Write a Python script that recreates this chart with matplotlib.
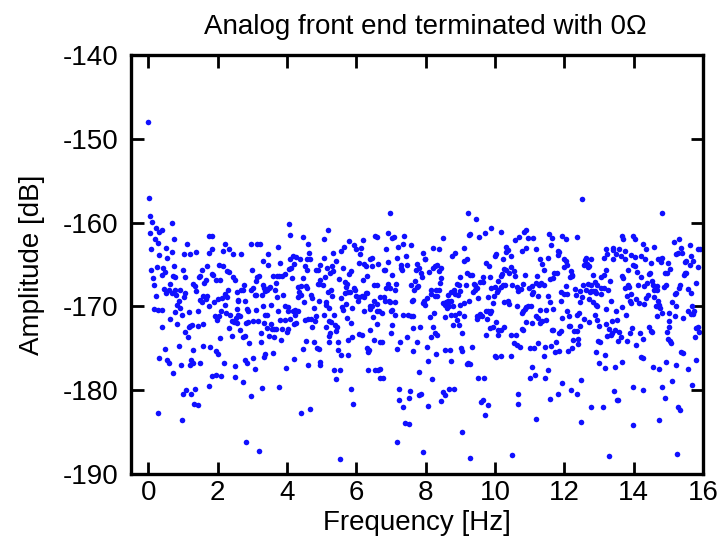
import matplotlib
matplotlib.use("Agg")
import matplotlib.pyplot as plt

plt.rcParams['font.family'] = ['Liberation Sans', 'DejaVu Sans']
plt.rcParams['axes.unicode_minus'] = False

# (frequency [Hz], amplitude [dB]), grouped by frequency band
band1 = [(0.00,-148.0),(0.03,-157.1),(0.04,-159.2),(0.10,-159.9),(0.68,-160.0),(0.21,-160.7),(0.38,-160.9),(0.30,-161.1),(0.06,-161.3),(0.75,-161.9),(0.19,-162.0),(0.28,-162.4),(1.11,-162.6),(0.52,-163.0),(0.07,-163.2),(0.67,-163.5),(1.38,-163.5),(1.02,-163.7),(1.19,-163.7),(0.30,-163.9),(0.55,-164.2),(0.25,-165.3),(0.73,-165.2),(0.42,-165.4),(0.09,-165.7),(1.00,-165.7),(1.55,-165.6),(0.48,-165.9),(0.38,-166.2),(0.13,-166.6),(0.71,-166.4),(0.78,-166.5),(1.05,-166.5),(1.46,-166.5),(1.50,-166.4),(1.30,-167.3),(0.63,-167.3),(0.17,-167.5),(0.46,-167.9),(1.34,-167.6),(0.90,-168.0),(0.77,-168.0),(0.59,-168.0),(1.38,-168.2),(0.50,-168.4),(0.67,-168.4),(1.07,-168.4),(0.21,-168.7),(0.80,-168.6),(1.02,-168.9),(1.50,-169.2),(0.88,-169.3),(1.55,-169.5),(0.84,-169.8),(0.15,-170.3),(0.28,-170.4),(0.40,-170.4),(0.92,-170.2),(0.78,-170.7),(1.17,-170.7),(1.42,-170.6),(0.98,-171.0),(0.63,-171.5),(1.57,-172.1),(0.84,-172.1),(1.27,-172.2),(1.21,-172.3),(1.17,-172.5),(0.38,-172.4),(1.44,-172.3),(1.05,-173.1),(1.13,-173.6),(0.88,-174.7),(1.57,-174.7),(0.48,-175.1),(1.28,-175.2),(0.32,-176.1),(0.53,-176.4),(0.61,-176.7),(1.23,-176.4),(1.28,-176.8),(1.19,-177.0),(1.48,-176.8),(0.94,-177.0),(0.71,-178.0),(1.34,-179.8),(1.09,-180.0),(1.00,-180.5),(1.23,-180.4),(1.32,-181.6),(1.44,-181.8),(0.27,-182.7),(0.96,-183.5)]
band2 = [(1.74,-161.6),(1.85,-161.6),(1.84,-163.1),(1.74,-163.6),(2.22,-162.6),(2.34,-163.1),(2.16,-163.4),(2.43,-163.8),(2.68,-163.8),(2.95,-162.6),(3.14,-162.6),(3.22,-162.6),(3.32,-164.6),(1.70,-165.2),(2.03,-165.1),(2.14,-165.2),(1.84,-166.1),(1.87,-166.3),(1.66,-166.8),(1.95,-166.9),(2.07,-166.9),(2.26,-165.8),(2.34,-165.9),(2.45,-166.5),(2.49,-166.8),(2.99,-165.6),(3.14,-166.5),(3.18,-166.4),(3.10,-167.0),(2.76,-167.4),(3.01,-167.8),(2.95,-168.0),(3.32,-167.5),(3.35,-167.8),(1.62,-167.2),(1.57,-168.7),(1.70,-168.7),(1.66,-169.1),(1.76,-170.0),(1.89,-169.5),(2.01,-169.1),(2.12,-169.0),(2.22,-168.5),(2.30,-168.1),(2.28,-168.9),(2.55,-168.3),(2.66,-168.1),(2.72,-168.1),(2.59,-169.2),(2.60,-169.4),(2.78,-169.3),(3.09,-168.6),(3.12,-168.6),(3.28,-168.6),(3.37,-168.2),(2.22,-169.8),(2.09,-170.6),(2.24,-170.8),(2.37,-171.0),(2.57,-170.3),(2.85,-170.3),(2.87,-170.5),(3.10,-170.4),(3.32,-170.0),(1.91,-171.2),(1.97,-171.4),(1.99,-171.6),(2.03,-171.1),(2.60,-171.0),(2.64,-171.2),(2.53,-171.4),(2.41,-171.7),(2.47,-171.9),(2.55,-172.0),(2.34,-172.6),(2.82,-172.0),(2.87,-171.9),(3.03,-171.8),(3.16,-171.8),(3.37,-171.0),(3.35,-172.0),(2.64,-172.8),(2.41,-173.5),(2.72,-173.7),(2.80,-173.5),(2.07,-173.8),(3.26,-173.2),(2.91,-174.4),(3.26,-174.2),(1.78,-174.8),(1.95,-175.3),(2.01,-175.7),(3.37,-175.7),(3.34,-176.0),(2.18,-176.7),(2.78,-176.4),(2.85,-176.8),(3.03,-176.2),(2.51,-177.1),(3.07,-177.5),(1.85,-178.3),(1.95,-178.2),(2.10,-178.3),(2.49,-178.4),(1.74,-179.5),(2.72,-179.0),(3.28,-179.7),(2.97,-180.7),(2.82,-186.2),(3.20,-187.3)]
band3 = [(4.06,-160.2),(4.10,-161.5),(5.18,-160.9),(4.46,-161.7),(5.08,-161.9),(4.60,-162.5),(3.75,-162.9),(3.46,-163.8),(3.46,-165.0),(3.79,-164.8),(4.16,-164.0),(4.27,-164.1),(4.37,-164.4),(4.08,-164.4),(4.64,-163.6),(4.58,-164.4),(4.66,-164.4),(5.08,-164.2),(4.20,-164.9),(4.12,-165.4),(4.06,-165.5),(3.93,-166.1),(3.85,-166.4),(3.60,-166.4),(3.71,-166.4),(3.77,-166.4),(4.14,-166.6),(4.52,-165.2),(4.58,-165.6),(4.83,-165.7),(4.89,-165.6),(4.96,-165.0),(5.16,-165.4),(5.10,-166.5),(4.96,-166.8),(4.89,-167.3),(4.93,-167.3),(5.04,-167.5),(4.45,-166.6),(4.58,-167.8),(4.54,-167.6),(4.41,-167.6),(4.33,-167.7),(3.68,-167.2),(3.52,-167.7),(3.43,-168.1),(3.48,-167.8),(3.66,-168.1),(3.89,-168.6),(3.71,-168.9),(4.35,-168.3),(4.39,-168.6),(4.33,-168.9),(4.70,-168.6),(4.71,-169.0),(4.48,-169.5),(4.91,-169.4),(5.18,-168.3),(5.12,-169.5),(3.54,-169.8),(3.93,-169.9),(4.04,-170.1),(4.79,-170.2),(5.12,-169.8),(4.23,-170.4),(4.18,-170.6),(4.31,-170.6),(3.41,-171.0),(3.73,-170.6),(3.79,-171.6),(3.95,-171.6),(4.04,-170.6),(4.08,-171.5),(4.23,-171.0),(4.25,-172.0),(4.21,-172.1),(4.68,-171.5),(4.52,-171.6),(4.62,-171.5),(4.83,-171.1),(5.06,-171.0),(4.81,-171.8),(3.54,-172.1),(3.56,-172.7),(3.62,-172.7),(3.68,-172.7),(3.43,-172.6),(3.87,-172.7),(4.02,-172.7),(4.00,-173.0),(4.71,-172.5),(5.12,-172.4),(5.21,-171.8),(5.21,-173.5),(5.20,-174.3),(3.48,-173.5),(3.62,-173.6),(3.83,-174.0),(4.56,-174.1),(4.79,-174.2),(4.45,-175.1),(4.87,-175.0),(4.93,-175.1),(3.60,-175.6),(4.21,-176.3),(4.62,-177.0),(4.95,-176.6),(4.96,-177.0),(3.98,-177.3),(3.77,-179.6),(4.39,-182.7),(4.66,-182.2)]
band4 = [(6.96,-158.8),(6.92,-161.3),(7.04,-161.8),(6.55,-161.6),(6.59,-161.7),(6.19,-162.1),(5.79,-162.2),(5.92,-162.7),(5.98,-163.1),(6.13,-163.0),(5.65,-162.9),(5.55,-163.4),(5.32,-163.6),(6.86,-163.1),(5.42,-164.6),(5.29,-165.2),(5.32,-165.8),(5.23,-166.0),(5.61,-165.4),(6.07,-164.8),(6.23,-164.9),(6.27,-165.2),(6.11,-163.8),(6.40,-164.4),(6.44,-164.2),(6.46,-165.2),(6.63,-164.9),(6.79,-165.6),(6.82,-165.6),(6.90,-164.7),(7.04,-166.2),(5.84,-165.8),(5.80,-166.1),(5.50,-166.7),(5.67,-167.1),(5.73,-167.3),(5.69,-167.7),(5.96,-168.0),(5.94,-167.8),(6.19,-166.9),(6.32,-166.4),(6.52,-167.4),(6.61,-167.4),(6.92,-167.3),(6.86,-167.8),(6.98,-167.8),(5.27,-168.1),(5.29,-168.8),(5.57,-169.0),(5.67,-168.4),(5.77,-168.3),(5.82,-168.3),(6.00,-168.8),(6.04,-169.4),(6.07,-168.9),(6.17,-168.8),(6.29,-168.4),(6.23,-168.9),(6.30,-168.4),(6.50,-169.4),(6.40,-169.9),(6.46,-169.9),(6.59,-169.7),(6.67,-168.9),(6.79,-168.9),(6.84,-169.4),(6.94,-169.4),(6.98,-169.5),(7.02,-170.4),(7.00,-170.6),(5.21,-170.2),(5.36,-171.0),(5.59,-170.1),(5.61,-170.4),(5.71,-169.7),(5.88,-170.2),(6.21,-170.5),(6.38,-170.3),(6.61,-170.6),(6.65,-170.6),(6.73,-170.8),(6.48,-171.3),(5.73,-171.4),(6.61,-172.1),(5.27,-171.9),(5.38,-172.2),(5.44,-172.4),(5.42,-172.9),(5.25,-173.2),(5.86,-172.0),(7.04,-172.2),(7.00,-173.2),(6.40,-172.8),(5.48,-174.2),(5.77,-174.0),(5.88,-173.7),(6.09,-173.3),(6.17,-173.4),(6.52,-174.0),(6.69,-174.2),(6.75,-174.3),(5.48,-175.2),(6.30,-175.0),(6.36,-175.2),(6.34,-175.5),(5.55,-175.8),(5.75,-175.8),(5.36,-177.6),(5.52,-177.6),(5.40,-178.7),(6.34,-177.6),(6.54,-177.6),(6.63,-177.6),(6.69,-177.5),(6.69,-178.5),(6.77,-178.6),(5.84,-179.8),(5.90,-181.6),(5.54,-188.2)]
band5 = [(7.09,-161.7),(7.38,-161.6),(7.20,-162.9),(7.34,-162.6),(7.57,-162.7),(8.51,-161.8),(8.22,-163.0),(8.38,-163.2),(7.18,-164.2),(7.43,-164.0),(7.91,-163.6),(7.99,-164.3),(7.97,-164.4),(8.76,-164.0),(8.86,-163.6),(7.30,-165.1),(7.28,-165.4),(7.32,-165.6),(7.45,-165.1),(7.74,-164.9),(7.72,-165.6),(7.80,-165.4),(7.86,-166.0),(7.89,-166.5),(8.09,-165.9),(8.20,-165.4),(8.28,-165.2),(8.32,-165.1),(8.43,-165.4),(8.38,-165.8),(8.45,-166.6),(7.14,-167.3),(7.11,-168.0),(7.57,-167.5),(7.70,-167.0),(7.74,-167.7),(7.78,-167.6),(7.66,-168.1),(8.41,-167.2),(8.14,-168.0),(8.30,-168.0),(8.39,-168.0),(8.63,-168.6),(8.74,-168.3),(8.82,-168.0),(8.86,-168.5),(8.16,-168.5),(8.34,-168.7),(8.03,-169.0),(8.26,-168.7),(7.95,-169.4),(7.99,-169.8),(7.91,-169.6),(7.61,-169.4),(7.63,-169.2),(7.11,-169.5),(8.59,-169.5),(8.64,-169.4),(8.72,-169.3),(8.68,-170.0),(8.80,-170.0),(8.49,-169.6),(8.55,-169.8),(8.61,-170.2),(8.24,-170.8),(8.13,-171.3),(7.36,-171.0),(7.49,-171.0),(7.57,-171.1),(7.63,-171.1),(7.11,-171.0),(7.64,-172.6),(7.84,-172.4),(8.20,-172.4),(8.72,-171.0),(8.84,-171.0),(8.55,-171.3),(8.80,-172.2),(8.26,-173.2),(8.34,-173.4),(7.47,-173.6),(7.26,-174.3),(7.74,-174.3),(8.16,-173.7),(8.03,-174.8),(7.16,-175.1),(7.63,-175.3),(8.30,-175.7),(8.57,-175.2),(8.70,-175.2),(8.72,-176.5),(8.07,-176.5),(7.80,-177.8),(8.18,-178.7),(7.22,-179.8),(7.55,-180.1),(8.51,-180.2),(8.55,-180.6),(8.66,-179.8),(8.82,-179.8),(7.24,-181.2),(7.51,-180.9),(7.80,-180.6),(7.86,-180.4),(8.45,-181.3),(7.36,-182.0),(8.07,-181.9),(7.41,-183.9),(7.51,-184.0),(7.18,-186.2),(7.93,-187.4)]
band6 = [(9.22,-158.8),(9.45,-159.6),(9.25,-161.5),(9.29,-161.4),(9.54,-161.7),(9.72,-161.2),(9.89,-160.7),(10.16,-161.1),(10.68,-161.7),(10.58,-162.1),(10.31,-162.9),(10.37,-163.3),(10.33,-163.5),(10.45,-164.0),(10.04,-163.7),(10.00,-164.0),(10.24,-164.4),(9.74,-164.8),(9.83,-165.2),(9.12,-163.0),(9.18,-164.4),(9.12,-164.6),(9.00,-166.5),(9.20,-166.0),(9.27,-166.3),(9.33,-166.3),(9.64,-166.5),(9.85,-166.5),(10.10,-167.0),(10.16,-166.4),(10.20,-166.1),(10.27,-165.5),(10.31,-165.7),(10.47,-165.3),(10.54,-165.8),(10.41,-166.0),(10.58,-166.4),(10.08,-168.0),(9.99,-167.7),(9.89,-167.8),(9.79,-168.9),(10.06,-168.3),(9.97,-168.7),(10.16,-167.7),(10.24,-167.4),(10.29,-167.5),(8.89,-167.3),(8.97,-167.4),(8.93,-168.6),(8.99,-168.2),(9.16,-167.4),(9.39,-167.3),(9.43,-167.5),(9.47,-167.8),(9.41,-168.1),(9.37,-168.3),(9.58,-167.1),(9.66,-167.1),(9.50,-169.0),(9.25,-169.3),(9.10,-169.6),(9.00,-169.8),(9.93,-169.6),(10.27,-169.5),(10.37,-169.3),(10.41,-169.7),(10.50,-167.5),(10.64,-167.7),(10.66,-168.2),(10.64,-169.9),(9.75,-170.6),(9.81,-170.6),(9.89,-170.6),(9.85,-170.8),(8.97,-170.8),(9.10,-171.1),(9.49,-171.1),(9.58,-170.9),(9.54,-171.1),(9.62,-171.1),(8.89,-171.6),(8.95,-172.2),(9.49,-171.5),(9.77,-171.5),(10.02,-171.9),(9.93,-172.4),(9.85,-172.6),(10.10,-172.8),(10.16,-172.8),(10.25,-172.4),(10.10,-173.4),(9.74,-173.4),(9.06,-173.2),(10.45,-173.4),(10.62,-173.4),(10.54,-174.4),(10.64,-174.6),(9.35,-174.8),(9.02,-175.0),(9.06,-175.3),(9.99,-175.9),(10.04,-176.0),(10.18,-175.9),(10.45,-175.9),(9.22,-176.7),(9.27,-176.9),(9.18,-176.9),(9.52,-178.6),(9.68,-178.5),(9.60,-181.4),(9.64,-181.2),(9.79,-181.8),(9.72,-182.9),(10.66,-180.5),(9.04,-185.0),(9.27,-188.1),(10.49,-187.7)]
band7 = [(12.50,-157.2),(10.90,-160.9),(10.84,-161.1),(10.96,-161.8),(11.11,-161.8),(11.56,-161.4),(11.65,-161.8),(11.92,-161.6),(12.04,-162.0),(12.36,-161.7),(11.61,-162.7),(10.90,-163.0),(10.79,-163.4),(11.19,-163.2),(11.81,-163.4),(11.86,-163.5),(11.83,-163.9),(11.29,-164.3),(11.36,-164.9),(11.54,-164.2),(12.00,-164.3),(12.04,-164.6),(12.09,-165.0),(11.98,-165.3),(11.40,-165.7),(11.21,-166.4),(10.86,-166.3),(11.71,-166.0),(11.79,-166.0),(11.67,-166.6),(11.59,-166.7),(12.19,-165.8),(12.21,-166.4),(12.15,-166.5),(12.23,-166.3),(10.81,-167.3),(10.75,-167.9),(10.98,-167.8),(11.06,-167.6),(11.11,-168.3),(11.08,-168.5),(11.17,-167.2),(11.27,-167.5),(11.34,-167.2),(11.40,-167.5),(11.25,-168.7),(11.52,-168.7),(11.58,-169.5),(12.06,-167.6),(11.90,-168.3),(12.00,-168.5),(12.08,-168.5),(12.31,-167.9),(12.33,-168.6),(12.46,-168.2),(12.46,-169.5),(10.90,-170.1),(10.96,-170.0),(11.04,-170.0),(10.86,-170.3),(10.81,-170.6),(10.77,-170.8),(11.19,-171.2),(11.31,-170.4),(11.48,-170.4),(11.67,-170.3),(11.90,-169.3),(12.08,-170.5),(11.94,-171.4),(12.13,-171.2),(12.36,-171.0),(12.42,-170.8),(10.88,-171.9),(11.06,-172.0),(11.25,-171.4),(11.31,-172.0),(11.36,-171.7),(11.48,-171.6),(10.79,-172.7),(10.81,-172.8),(11.67,-172.8),(11.63,-172.8),(11.90,-172.9),(11.84,-173.2),(11.75,-174.3),(12.13,-172.3),(12.17,-172.3),(12.29,-172.9),(12.36,-172.9),(12.44,-172.3),(12.40,-173.9),(12.25,-174.0),(10.73,-174.9),(11.00,-175.0),(11.13,-175.0),(11.25,-174.4),(11.44,-174.9),(11.61,-174.7),(11.42,-175.9),(11.73,-175.4),(11.86,-175.3),(12.11,-175.3),(12.23,-175.0),(12.40,-174.5),(11.06,-177.2),(11.52,-177.6),(11.02,-178.5),(11.15,-178.2),(11.44,-178.6),(12.48,-178.8),(11.94,-179.2),(11.81,-180.5),(11.59,-181.0),(12.19,-180.0),(12.36,-180.4),(10.67,-181.6),(11.17,-183.4),(12.48,-183.8)]
band8 = [(13.65,-161.6),(13.70,-161.9),(13.97,-161.6),(14.03,-162.0),(14.26,-162.5),(13.20,-163.1),(13.41,-163.0),(13.40,-163.3),(13.59,-163.1),(13.76,-163.4),(13.24,-163.7),(13.49,-163.7),(13.63,-164.0),(13.76,-164.4),(13.93,-163.9),(14.05,-164.1),(14.20,-164.0),(14.32,-164.3),(13.13,-164.2),(13.40,-164.3),(12.63,-164.2),(12.76,-164.3),(12.59,-164.5),(12.57,-165.0),(12.68,-165.3),(12.65,-164.9),(12.72,-165.2),(13.99,-165.0),(14.05,-165.2),(13.84,-165.6),(14.09,-165.9),(14.22,-166.5),(13.20,-165.6),(12.82,-166.2),(13.07,-166.5),(13.15,-166.2),(13.32,-167.0),(13.65,-166.4),(13.70,-166.6),(12.53,-167.5),(12.68,-167.3),(12.76,-167.4),(12.88,-167.1),(12.95,-167.4),(12.63,-168.0),(12.74,-168.3),(12.78,-168.2),(12.82,-168.2),(12.88,-168.2),(12.90,-168.4),(13.05,-167.8),(13.07,-168.5),(13.13,-167.8),(13.26,-168.0),(13.76,-167.8),(13.84,-167.5),(13.86,-167.7),(14.13,-167.5),(14.30,-167.6),(13.93,-168.5),(13.80,-168.8),(13.90,-169.4),(13.91,-169.6),(14.07,-169.1),(14.15,-169.6),(14.30,-169.7),(12.51,-168.9),(12.70,-169.1),(12.84,-169.5),(12.90,-169.8),(12.93,-170.0),(13.36,-169.3),(13.20,-170.3),(13.49,-170.5),(13.65,-170.1),(13.78,-171.0),(12.88,-171.0),(12.95,-171.6),(12.57,-171.5),(12.72,-171.9),(13.01,-172.3),(13.20,-172.1),(13.38,-171.8),(13.53,-171.6),(13.95,-172.6),(13.88,-173.2),(14.18,-173.2),(14.28,-173.9),(14.07,-174.6),(13.45,-172.8),(13.57,-173.0),(13.63,-173.6),(13.55,-174.1),(13.80,-174.1),(13.30,-172.7),(13.24,-173.5),(13.34,-173.4),(13.38,-173.2),(12.97,-174.1),(13.03,-174.2),(14.22,-176.0),(14.28,-176.2),(12.91,-175.5),(13.16,-175.8),(13.01,-176.8),(13.18,-177.4),(13.47,-177.2),(13.66,-176.6),(13.43,-180.1),(13.51,-181.2),(13.55,-181.2),(13.99,-179.6),(14.28,-180.0),(12.78,-182.0),(13.11,-182.0),(13.99,-184.1),(13.28,-187.8)]
band9 = [(14.83,-158.9),(15.16,-162.3),(15.31,-161.9),(14.60,-162.9),(15.37,-163.0),(15.62,-162.7),(15.85,-163.2),(15.91,-163.1),(14.37,-163.2),(15.22,-163.7),(15.29,-163.6),(15.39,-163.6),(15.64,-164.0),(14.70,-164.4),(14.75,-164.3),(14.81,-164.2),(14.79,-164.7),(14.49,-164.8),(15.47,-164.7),(15.52,-164.6),(15.70,-164.6),(15.62,-165.1),(15.87,-165.3),(14.47,-166.0),(14.43,-166.1),(14.91,-166.0),(14.97,-166.0),(14.99,-164.8),(15.06,-165.5),(15.47,-166.0),(15.52,-166.0),(15.45,-166.3),(15.33,-167.4),(15.31,-167.8),(15.22,-168.4),(15.18,-168.5),(15.56,-167.9),(15.66,-168.4),(15.81,-167.2),(14.66,-167.6),(14.87,-167.7),(14.93,-167.5),(14.56,-167.4),(14.39,-167.2),(14.52,-167.0),(14.60,-168.0),(14.41,-168.6),(14.37,-169.0),(14.58,-168.9),(14.68,-168.1),(14.70,-169.4),(14.64,-169.9),(14.68,-170.0),(14.74,-169.8),(14.77,-170.2),(14.83,-170.8),(15.02,-170.8),(15.12,-169.5),(15.22,-170.0),(15.20,-171.1),(15.41,-171.4),(15.56,-170.6),(15.64,-170.9),(15.72,-170.9),(15.68,-170.0),(15.75,-170.5),(14.66,-171.2),(14.45,-172.5),(14.54,-173.0),(14.50,-172.9),(15.02,-171.8),(15.02,-172.4),(14.95,-173.0),(15.79,-172.6),(15.85,-172.5),(15.89,-173.1),(15.77,-173.7),(14.99,-173.9),(15.04,-174.1),(15.08,-174.4),(15.37,-175.4),(15.43,-175.6),(15.79,-176.4),(14.93,-176.6),(15.22,-177.0),(14.56,-177.2),(14.72,-177.5),(15.58,-177.5),(15.10,-178.9),(15.68,-179.4),(14.83,-179.6),(14.91,-180.9),(15.27,-182.0),(15.33,-182.4),(14.74,-183.5),(15.24,-187.6)]

x_ticks = [0, 2, 4, 6, 8, 10, 12, 14, 16]
y_ticks = [-190, -180, -170, -160, -150, -140]
title = "Analog front end terminated with 0\u03a9"
xlabel = "Frequency [Hz]"
ylabel = "Amplitude [dB]"

points = band1 + band2 + band3 + band4 + band5 + band6 + band7 + band8 + band9
freq = [p[0] for p in points]
amp = [p[1] for p in points]

fig = plt.figure(figsize=(7.24, 5.38), dpi=100)
ax = fig.add_axes([131/724, 1 - 474/538, (703 - 131)/724, (474 - 55)/538])

ax.plot(freq, amp, linestyle='none', marker='o', markersize=4.0,
        markerfacecolor='#1010ff', markeredgewidth=0)

ax.set_xlim(-0.5, 16)
ax.set_ylim(-190, -140)
ax.set_xticks(x_ticks)
ax.set_yticks(y_ticks)

fs = 20
ax.tick_params(direction='in', length=9, width=2, top=True, right=True,
               labelsize=fs, colors='black')
ax.tick_params(axis='x', pad=4)
ax.tick_params(axis='y', pad=9)
for s in ax.spines.values():
    s.set_linewidth(2.4)
    s.set_color('black')

ax.set_xlabel(xlabel, fontsize=fs, labelpad=3)
ax.set_ylabel(ylabel, fontsize=fs, labelpad=13)
ax.set_title(title, fontsize=fs, pad=15, x=0.515)

fig.savefig("out.png", dpi=100)
